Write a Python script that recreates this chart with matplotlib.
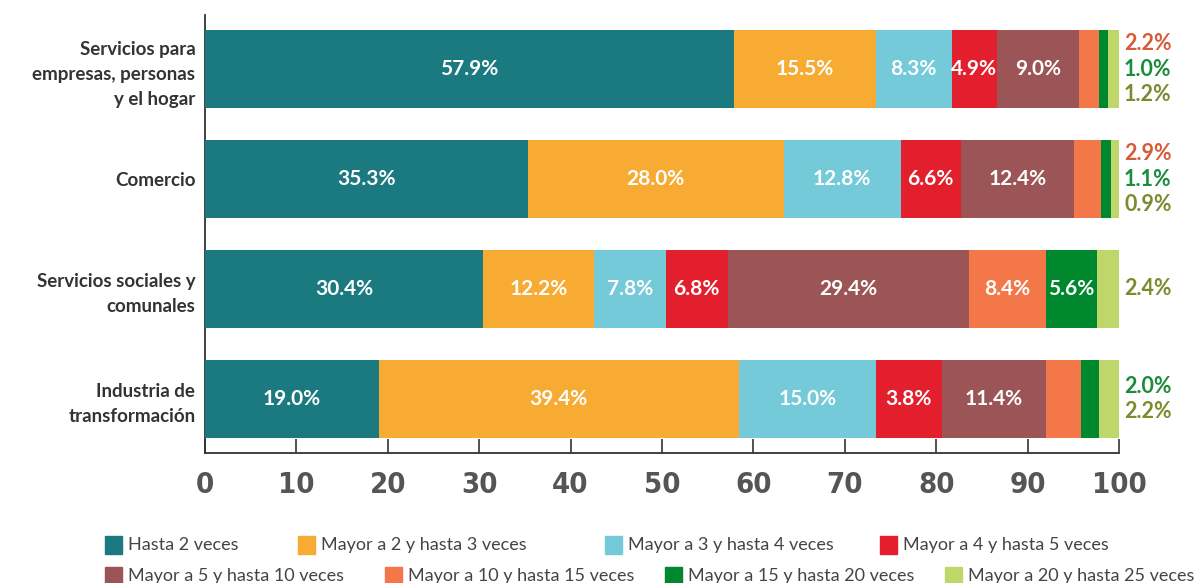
import numpy as np
import matplotlib
matplotlib.use("Agg")
import matplotlib.pyplot as plt
from matplotlib.patches import Rectangle

# data (top to bottom as in the picture)
categories = ["Servicios para\nempresas, personas\ny el hogar", "Comercio",
              "Servicios sociales y\ncomunales", "Industria de\ntransformación"]
series = ["Hasta 2 veces", "Mayor a 2 y hasta 3 veces", "Mayor a 3 y hasta 4 veces",
          "Mayor a 4 y hasta 5 veces", "Mayor a 5 y hasta 10 veces", "Mayor a 10 y hasta 15 veces",
          "Mayor a 15 y hasta 20 veces", "Mayor a 20 y hasta 25 veces"]
# segment widths as drawn
bar_vals = [
    [57.9, 15.5, 8.3, 4.9, 9.0, 2.2, 1.0, 1.2],
    [35.3, 28.0, 12.8, 6.6, 12.4, 2.9, 1.1, 0.9],
    [30.4, 12.2, 7.8, 6.8, 26.4, 8.4, 5.6, 2.4],
    [19.0, 39.4, 15.0, 7.2, 11.4, 3.8, 2.0, 2.2],
]
# values as printed on the chart
label_vals = [
    [57.9, 15.5, 8.3, 4.9, 9.0, 2.2, 1.0, 1.2],
    [35.3, 28.0, 12.8, 6.6, 12.4, 2.9, 1.1, 0.9],
    [30.4, 12.2, 7.8, 6.8, 29.4, 8.4, 5.6, 2.4],
    [19.0, 39.4, 15.0, 3.8, 11.4, 7.2, 2.0, 2.2],
]
n_inside = [5, 5, 7, 5]          # labels drawn inside the bar
outside_idx = [[5, 6, 7], [5, 6, 7], [7], [6, 7]]   # labels written right of the bar

colors = ["#1B7A80", "#F7AB33", "#74CAD8", "#E41F2D", "#9C5556", "#F37748", "#00882E", "#BFD66B"]
out_colors = {5: "#D65C38", 6: "#1A8C3C", 7: "#7F8A2E"}

plt.rcParams["font.family"] = ["Lato", "DejaVu Sans"]

fig = plt.figure(figsize=(11.99, 5.83), dpi=100)
ax = fig.add_axes([205 / 1199, 1 - 453 / 583, (1119 - 205) / 1199, (453 - 15) / 583])

ypos = np.arange(len(categories))[::-1]
left = np.zeros(len(categories))
vals = np.array(bar_vals)
for j in range(len(series)):
    ax.barh(ypos, vals[:, j], left=left, height=0.71, color=colors[j], label=series[j], zorder=3)
    for i in range(len(categories)):
        if j < n_inside[i]:
            ax.text(left[i] + vals[i, j] / 2, ypos[i], f"{label_vals[i][j]:.1f}%",
                    ha="center", va="center", color="white", fontsize=15, fontweight="bold",
                    zorder=4)
    left += vals[:, j]

step = 0.228
for i in range(len(categories)):
    idx = outside_idx[i]
    k = len(idx)
    for n, j in enumerate(idx):
        off = (n - (k - 1) / 2) * step
        ax.text(100.55, ypos[i] - off, f"{label_vals[i][j]:.1f}%", ha="left", va="center",
                color=out_colors[j], fontsize=15.5, fontweight="bold", clip_on=False)

ax.set_xlim(0, 100)
ax.set_ylim(-0.491, 3.491)
ax.set_xticks(np.arange(0, 101, 10))
ax.set_yticks(ypos)
ax.set_yticklabels(categories, fontsize=13.5, fontweight="bold", color="#333333",
                   linespacing=1.55)
ax.tick_params(axis="y", length=0, pad=7)
ax.tick_params(axis="x", direction="in", length=10, width=1.2, color="#333333", pad=13)
for lab in ax.get_xticklabels():
    lab.set_fontfamily("DejaVu Sans")
    lab.set_fontstretch("condensed")
    lab.set_fontweight("bold")
    lab.set_fontsize(21)
    lab.set_color("#555555")
for s in ["top", "right"]:
    ax.spines[s].set_visible(False)
for s in ["left", "bottom"]:
    ax.spines[s].set_color("#333333")
    ax.spines[s].set_linewidth(1.3)

# legend, laid out like the original (two flowing rows)
leg_x = [[105, 298, 605, 880], [105, 385, 665, 945]]
leg_y = [545, 576]
W, H = 1199, 583
for r in range(2):
    for c in range(4):
        j = r * 4 + c
        x0 = leg_x[r][c]
        fig.patches.append(Rectangle((x0 / W, 1 - (leg_y[r] + 9) / H), 17 / W, 18 / H,
                                     transform=fig.transFigure, color=colors[j]))
        fig.text((x0 + 23) / W, 1 - leg_y[r] / H, series[j], ha="left", va="center",
                 fontsize=13, color="#444444")

fig.savefig("out.png", dpi=100)
